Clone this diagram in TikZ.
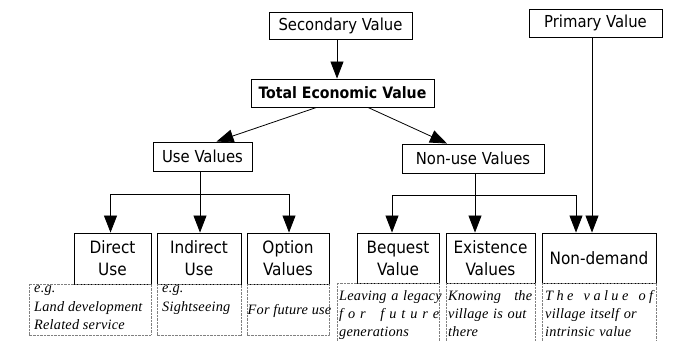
\documentclass[tikz,border=0pt]{standalone}
\usepackage{fontspec}
\setmainfont{Liberation Serif}
\newfontfamily\boxfont{DejaVu Sans Condensed}
\newfontfamily\notefont[LetterSpace=1.5]{Liberation Serif}
\usetikzlibrary{arrows.meta,calc}
\newcommand{\spreadline}[1]{\leavevmode\hbox to \linewidth{#1}}
\begin{document}
\begin{tikzpicture}[x=1pt,y=-1pt,
  box/.style={draw,line width=0.9pt,inner sep=0pt,font=\boxfont\fontsize{16.5}{19}\selectfont,align=center},
  bigbox/.style={box,font=\boxfont\fontsize{17}{22}\selectfont},
  dotbox/.style={draw=gray,line width=0.6pt,dash pattern=on 0.7pt off 0.7pt,inner sep=0pt},
  note/.style={anchor=north west,inner sep=0pt,align=left,font=\notefont\itshape\fontsize{14.3}{18.2}\selectfont},
  arr/.style={line width=0.8pt,-{Triangle[width=13pt,length=17pt]}},
  ln/.style={line width=0.8pt}]
\path[use as bounding box] (0,0) rectangle (677,340);
\clip (0,0) rectangle (677,340);
% top
\node[box,minimum width=143pt,minimum height=27pt] (sec) at (340.5,25.5) {Secondary Value};
\node[box,minimum width=133pt,minimum height=28pt] (prim) at (595.5,23) {Primary Value};
\node[box,minimum width=183pt,minimum height=28pt,font=\boxfont\bfseries\fontsize{15.7}{18}\selectfont] (tev) at (342.5,93) {Total Economic Value};
\node[box,minimum width=99pt,minimum height=29pt] (use) at (202.5,156.5) {Use Values};
\node[box,minimum width=142pt,minimum height=29pt] (nonuse) at (473,158.5) {Non-use Values};
% bottom boxes
\node[bigbox,minimum width=77pt,minimum height=51pt] (direct) at (112.5,258.5) {Direct\\Use};
\node[bigbox,minimum width=84pt,minimum height=51pt] (indirect) at (199,258.5) {Indirect\\Use};
\node[bigbox,minimum width=82pt,minimum height=51pt] (option) at (288,258.5) {Option\\Values};
\node[bigbox,minimum width=82pt,minimum height=50pt] (bequest) at (398,258) {Bequest\\Value};
\node[bigbox,minimum width=89pt,minimum height=50pt] (exist) at (490.5,258) {Existence\\Values};
\node[bigbox,minimum width=114pt,minimum height=50pt] (nondem) at (599,258) {Non-demand};
% dotted note boxes
\draw[dotbox] (29,284) rectangle (151,335);
\draw[dotbox] (157,284) rectangle (241,335);
\draw[dotbox] (247,284) rectangle (329,335);
\draw[dotbox] (337,283) rectangle (439,345);
\draw[dotbox] (446,283) rectangle (535,345);
\draw[dotbox] (542,283) rectangle (656,345);
% notes
\node[note] (n1) at (34,286) {e.g.\\Land development\\Related service};
\node[note] (n2) at (162,286) {e.g.\\Sightseeing};
\node[note,anchor=west] (n3) at (247.5,311) {For future use};
\node[note,text width=100pt] (n4) at (339,290) {\mbox{Leaving a legacy}\\\spreadline{f\hfill o\hfill r\hfill\hfill\hfill f\hfill u\hfill t\hfill u\hfill r\hfill e}\\generations};
\node[note,text width=84pt] (n5) at (448,290) {\spreadline{Knowing\hfill the}\\\mbox{village is out}\\there};
\node[note,text width=108pt] (n6) at (545,290) {\spreadline{T\hfill h\hfill e\hfill\hfill\hfill v\hfill a\hfill l\hfill u\hfill e\hfill\hfill\hfill o\hfill f}\\\mbox{village itself or}\\intrinsic value};
% connectors
\draw[arr] ([xshift=-3.5pt]sec.south) -- ([xshift=-3.5pt]sec.south |- tev.north);
\draw[arr] ([xshift=-26pt]tev.south) -- ([xshift=14pt]use.north);
\draw[arr] ([xshift=25.5pt]tev.south) -- ([xshift=-26pt]nonuse.north);
\coordinate (ujoin) at ($(use.south)+(-2,23)$);
\draw[ln] ([xshift=-2pt]use.south) -- (ujoin);
\draw[arr] (ujoin) -| ([xshift=-2pt]direct.north);
\draw[arr] (ujoin) -| ([xshift=1pt]indirect.north);
\draw[arr] (ujoin) -| ([xshift=1pt]option.north);
\coordinate (njoin) at ($(nonuse.south)+(2,22)$);
\draw[ln] ([xshift=2pt]nonuse.south) -- (njoin);
\draw[arr] (njoin) -| ([xshift=-6pt]bequest.north);
\draw[arr] (njoin) -- (njoin |- exist.north);
\draw[arr] (njoin) -| ([xshift=-23pt]nondem.north);
\draw[arr] ([xshift=-3.5pt]prim.south) -- ([xshift=-3.5pt]prim.south |- nondem.north);
\end{tikzpicture}
\end{document}
